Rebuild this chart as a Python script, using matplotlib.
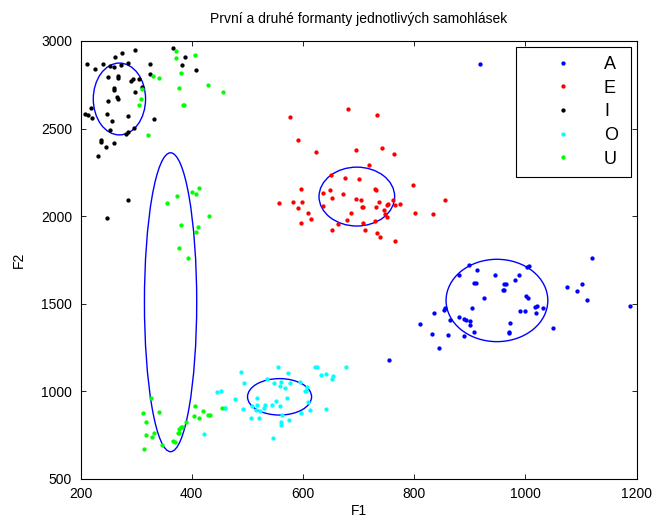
import matplotlib
matplotlib.use("Agg")
import matplotlib.pyplot as plt
from matplotlib.patches import Ellipse

plt.rcParams['font.family'] = ['Liberation Sans', 'DejaVu Sans']

# F1 / F2 formant measurements (Hz) for each vowel
a_f1 = [1120, 898, 914, 881, 946, 989, 982, 1003, 1007, 907, 911, 962, 966, 960, 962,
        1075, 1093, 1102, 1111, 1189, 925, 1002, 1005, 905, 991, 1000, 1018, 1021, 1031,
        1019, 835, 853, 855, 881, 889, 894, 900, 865, 900, 811, 973, 1049, 907, 970, 971,
        833, 861, 889, 845, 919, 754]
a_f2 = [1760, 1720, 1691, 1666, 1664, 1663, 1638, 1712, 1716, 1620, 1620, 1611, 1615, 1580,
        1580, 1594, 1575, 1615, 1520, 1487, 1533, 1546, 1535, 1474, 1461, 1457, 1480, 1489,
        1474, 1449, 1449, 1465, 1474, 1426, 1415, 1409, 1400, 1408, 1377, 1386, 1390, 1362,
        1341, 1337, 1332, 1328, 1320, 1318, 1246, 2867, 1179]

e_f1 = [681, 577, 734, 592, 624, 695, 742, 764, 718, 651, 676, 700, 597, 636, 649, 673,
        729, 732, 798, 557, 582, 599, 653, 695, 705, 636, 591, 706, 708, 732, 736, 753,
        751, 762, 766, 774, 856, 609, 687, 745, 748, 802, 834, 614, 597, 680, 751, 730,
        664, 708, 652, 712, 733, 739, 766]
e_f2 = [2610, 2566, 2576, 2437, 2365, 2378, 2389, 2353, 2291, 2234, 2216, 2214, 2155, 2134,
        2150, 2128, 2155, 2150, 2176, 2077, 2081, 2079, 2106, 2097, 2093, 2058, 2049, 2051,
        2051, 2054, 2081, 2068, 2062, 2094, 2062, 2068, 2094, 2020, 2020, 2034, 2014, 2020,
        2014, 1984, 1960, 1980, 1997, 1973, 1957, 1960, 1921, 1921, 1906, 1883, 1857]

i_f1 = [298, 275, 262, 212, 226, 240, 253, 261, 272, 286, 325, 250, 267, 267, 290, 295,
        305, 325, 260, 260, 298, 310, 266, 267, 250, 247, 218, 208, 214, 221, 257, 286,
        332, 253, 286, 282, 297, 236, 236, 261, 245, 231, 286, 247, 367, 388, 383, 407]
i_f2 = [2949, 2933, 2907, 2867, 2840, 2870, 2859, 2853, 2865, 2873, 2867, 2796, 2802, 2791,
        2772, 2785, 2785, 2812, 2734, 2720, 2711, 2739, 2679, 2667, 2659, 2585, 2616, 2582,
        2578, 2559, 2543, 2572, 2553, 2490, 2482, 2470, 2504, 2433, 2422, 2416, 2393, 2344,
        2094, 1990, 2962, 2910, 2863, 2833]

o_f1 = [488, 494, 446, 452, 478, 459, 460, 493, 423, 507, 521, 509, 518, 518, 516, 523,
        531, 530, 544, 552, 558, 535, 548, 559, 561, 568, 577, 571, 556, 574, 594, 607,
        604, 606, 610, 613, 597, 575, 560, 560, 562, 546, 621, 626, 633, 641, 654, 653,
        678, 642]
o_f2 = [1111, 1046, 997, 1002, 955, 907, 907, 898, 755, 848, 846, 918, 922, 962, 896, 886,
        922, 907, 922, 943, 917, 1071, 1048, 1031, 1054, 1021, 1046, 961, 1141, 1105, 1055,
        1023, 1001, 1001, 940, 894, 875, 838, 825, 807, 864, 736, 1138, 1139, 1092, 1098,
        1086, 1073, 1139, 901]

u_f1 = [371, 372, 406, 381, 330, 341, 378, 429, 456, 310, 308, 305, 384, 387, 321, 413,
        401, 407, 373, 356, 432, 380, 412, 408, 377, 394,
        327, 312, 341, 317, 406, 420, 429, 433, 405, 413, 389, 380, 383, 378, 375, 378,
        332, 329, 318, 367, 370, 347, 314, 455]
u_f2 = [2943, 2905, 2918, 2816, 2800, 2790, 2732, 2747, 2711, 2728, 2669, 2635, 2636, 2636,
        2464, 2159, 2138, 2128, 2114, 2074, 2001, 1948, 1938, 1908, 1819, 1763,
        961, 875, 881, 827, 915, 886, 867, 867, 858, 850, 824, 799, 795, 785, 761, 761,
        761, 738, 749, 715, 713, 692, 670, 905]

vowels = ['A', 'E', 'I', 'O', 'U']
colors = ['#0000ff', '#ff0000', '#000000', '#00ffff', '#00ff00']
f1_data = [a_f1, e_f1, i_f1, o_f1, u_f1]
f2_data = [a_f2, e_f2, i_f2, o_f2, u_f2]

# Spread ellipses per vowel: centre and semi-axes (Hz)
ell_f1 = [949, 697, 270, 558, 362]
ell_f2 = [1519, 2112, 2669, 969, 1509]
ell_r1 = [91.5, 68, 47, 57.6, 47]
ell_r2 = [235, 168, 205, 104, 853]

fig = plt.figure(figsize=(6.55, 5.2), dpi=100)
ax = fig.add_axes([80.5 / 655, 41 / 520, 556 / 655, 438 / 520])

for name, col, xs, ys in zip(vowels, colors, f1_data, f2_data):
    ax.plot(xs, ys, linestyle='none', marker='o', markersize=3.1,
            markeredgewidth=0, color=col, label=name)

for cx, cy, r1, r2 in zip(ell_f1, ell_f2, ell_r1, ell_r2):
    ax.add_patch(Ellipse((cx, cy), 2 * r1, 2 * r2, fill=False,
                         edgecolor='#0000ff', linewidth=1.0))

ax.set_xlim(200, 1200)
ax.set_ylim(500, 3000)
ax.set_xticks([200, 400, 600, 800, 1000, 1200])
ax.set_yticks([500, 1000, 1500, 2000, 2500, 3000])
ax.tick_params(direction='in', length=3.3, width=0.6, top=True, right=True,
               labelsize=10, pad=6, colors='#000000')
for sp in ax.spines.values():
    sp.set_linewidth(0.8)

ax.set_xlabel('F1', fontsize=10, labelpad=2)
ax.set_ylabel('F2', fontsize=10, labelpad=11)
ax.set_title('První a druhé formanty jednotlivých samohlásek', fontsize=10, pad=13)

leg = ax.legend(loc='upper left', bbox_to_anchor=(0.7833, 0.0, 0.2068, 0.9863),
                mode='expand', borderaxespad=0.0, fontsize=13, frameon=True,
                fancybox=False, borderpad=0.5, handlelength=4.2,
                handletextpad=0.17, labelspacing=0.37,
                edgecolor='#000000', framealpha=1)
leg.get_frame().set_linewidth(0.8)

fig.savefig('out.png', dpi=100)
